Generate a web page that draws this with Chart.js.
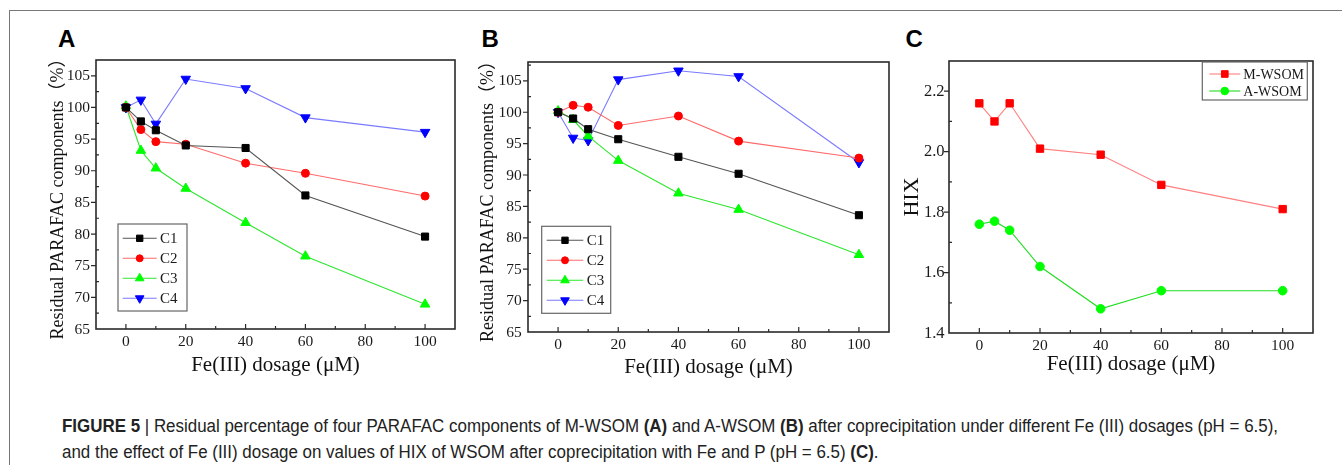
<!DOCTYPE html>
<html>
<head>
<meta charset="utf-8">
<script src="https://cdn.jsdelivr.net/npm/chart.js@4.4.1/dist/chart.umd.min.js"></script>
<style>
  body { margin: 0; background: #fff; width: 1342px; height: 465px; overflow: hidden; position: relative; }
  .frame { position: absolute; left: 9px; top: 10px; width: 1400px; height: 500px; border-left: 1px solid #777; border-top: 1px solid #777; }
  canvas { position: absolute; }
  .tag { position: absolute; top: 27px; font: bold 24px "Liberation Sans", Arial, sans-serif; line-height: 1; color: #000; }
  .cap { position: absolute; left: 62px; top: 413px; font: 17.5px "Liberation Sans", Arial, sans-serif; line-height: 26px; color: #222; white-space: nowrap; }
  .cap span { display: inline-block; transform-origin: 0 50%; }
</style>
</head>
<body>
<div class="frame"></div>
<div class="tag" style="left:58px">A</div>
<div class="tag" style="left:481.5px">B</div>
<div class="tag" style="left:905.5px">C</div>
<canvas id="chartA"></canvas>
<canvas id="chartB"></canvas>
<canvas id="chartC"></canvas>
<div class="cap">
  <span id="cap1"><b>FIGURE 5</b> | Residual percentage of four PARAFAC components of M-WSOM <b>(A)</b> and A-WSOM <b>(B)</b> after coprecipitation under different Fe (III) dosages (pH = 6.5),</span><br>
  <span id="cap2">and the effect of Fe (III) dosage on values of HIX of WSOM after coprecipitation with Fe and P (pH = 6.5) <b>(C)</b>.</span>
</div>
<script>
// Fe(III) dosage (uM)
const dosage = [0, 5, 10, 20, 40, 60, 100];

// panel A: M-WSOM residual components (%)
const mC1 = [100, 97.8, 96.4, 94.0, 93.6, 86.1, 79.6];
const mC2 = [100, 96.5, 94.6, 94.2, 91.2, 89.6, 86.0];
const mC3 = [100.2, 93.2, 90.4, 87.2, 81.8, 76.5, 68.9];
const mC4 = [100, 101.2, 97.4, 104.5, 103.0, 98.4, 96.1];

// panel B: A-WSOM residual components (%)
const aC1 = [100, 99.0, 97.3, 95.7, 92.9, 90.2, 83.6];
const aC2 = [100, 101.1, 100.8, 97.9, 99.4, 95.4, 92.7];
const aC3 = [100.2, 98.8, 96.2, 92.3, 87.1, 84.5, 77.3];
const aC4 = [100, 95.9, 95.5, 105.2, 106.6, 105.7, 92.0];

// panel C: HIX
const hixM = [2.16, 2.10, 2.16, 2.01, 1.99, 1.89, 1.81];
const hixA = [1.76, 1.77, 1.74, 1.62, 1.48, 1.54, 1.54];

// tick labels
const doseTicks = [0, 20, 40, 60, 80, 100];
const pctTicks = [65, 70, 75, 80, 85, 90, 95, 100, 105];
const hixTicks = [1.4, 1.6, 1.8, 2.0, 2.2];

const serif = '"Liberation Serif", "Times New Roman", "Noto Sans CJK SC", serif';
const xTitle = 'Fe(III) dosage (\u03bcM)';
const pctTitle = 'Residual PARAFAC components\uff08%\uff09';

const pts = ys => dosage.map((x, i) => ({ x: x, y: ys[i] }));

function series(label, ys, color, lineColor, style, radius, rotation) {
  return {
    label: label,
    data: pts(ys),
    borderColor: lineColor,
    borderWidth: 1.1,
    pointStyle: style,
    pointRotation: rotation || 0,
    pointRadius: radius,
    pointBackgroundColor: color,
    pointBorderColor: color,
    pointBorderWidth: 1,
    tension: 0
  };
}

// frame, tick marks, tick labels and the boxed legend
const decor = {
  id: 'decor',
  afterDraw(chart, args, o) {
    const { ctx, chartArea: a, scales: { x, y } } = chart;
    ctx.save();
    ctx.strokeStyle = '#2a2a2a';
    ctx.lineWidth = 1.6;
    ctx.strokeRect(a.left, a.top, a.width, a.height);

    ctx.lineWidth = 1.2;
    ctx.beginPath();
    for (let k = 0; k <= 10; k++) {
      const v = o.xr[0] + k * o.xr[2] / 2;
      const px = x.getPixelForValue(v);
      ctx.moveTo(px, a.bottom);
      ctx.lineTo(px, a.bottom - (k % 2 ? 3 : 5));
    }
    const ny = Math.round((o.yr[1] - o.yr[0]) / o.yr[2] * 2);
    for (let k = 1; k <= ny + 1; k++) {
      const v = o.yr[0] + k * o.yr[2] / 2;
      const py = y.getPixelForValue(v);
      if (py < a.top + 1) continue;
      if (k % 2) { ctx.moveTo(a.left, py); ctx.lineTo(a.left + 3, py); }
      else { ctx.moveTo(a.left - 5, py); ctx.lineTo(a.left, py); }
    }
    ctx.stroke();

    // tick labels
    ctx.fillStyle = '#1a1a1a';
    ctx.textBaseline = 'middle';
    ctx.font = o.xFont + 'px ' + serif;
    ctx.textAlign = 'center';
    o.xt.forEach(v => ctx.fillText(String(v), x.getPixelForValue(v), a.bottom + o.xGap));
    ctx.font = o.yFont + 'px ' + serif;
    ctx.textAlign = 'right';
    o.yt.forEach(v => ctx.fillText(o.fmt(v), a.left - o.yGap, y.getPixelForValue(v) + 0.5));

    const lg = o.legend;
    const bx = a.left + lg.dx;
    const by = lg.fromTop ? a.top + lg.dy : a.bottom - lg.dy - lg.h;
    ctx.fillStyle = '#fff';
    ctx.fillRect(bx, by, lg.w, lg.h);
    ctx.strokeStyle = '#666';
    ctx.lineWidth = 1.2;
    ctx.strokeRect(bx, by, lg.w, lg.h);
    ctx.font = lg.font + 'px ' + serif;
    ctx.textBaseline = 'middle';
    ctx.textAlign = 'left';
    chart.data.datasets.forEach((ds, i) => {
      const cy = by + lg.row0 + i * lg.gap;
      ctx.strokeStyle = ds.borderColor;
      ctx.lineWidth = ds.borderWidth;
      ctx.beginPath();
      ctx.moveTo(bx + lg.l0, cy);
      ctx.lineTo(bx + lg.l1, cy);
      ctx.stroke();
      ctx.fillStyle = ds.pointBackgroundColor;
      ctx.strokeStyle = ds.pointBorderColor;
      ctx.lineWidth = ds.pointBorderWidth;
      Chart.helpers.drawPoint(ctx, {
        pointStyle: ds.pointStyle, rotation: ds.pointRotation,
        radius: ds.pointRadius - 0.5, borderWidth: ds.pointBorderWidth
      }, bx + (lg.l0 + lg.l1) / 2, cy);
      ctx.fillStyle = '#1a1a1a';
      ctx.fillText(ds.label, bx + lg.tx, cy + 1);
    });
    ctx.restore();
  }
};

function makePanel(id, geo, yMin, yMax, yTicks, yStep, yTitle, yFs, yTickFs, fmt, datasets, legend) {
  const [cx, cy, cw, ch] = geo.canvas;
  const [L, T, R, B] = geo.area;
  const xFs = 21;
  const yBoxLeft = geo.yTitleX - 4 - 0.6 * yFs;
  const yWidth = L - yBoxLeft;
  const xHeight = geo.xTitleY + 4 + 0.6 * xFs - B;
  const el = document.getElementById(id);
  el.width = cw; el.height = ch;
  el.style.left = cx + 'px'; el.style.top = cy + 'px';
  el.style.width = cw + 'px'; el.style.height = ch + 'px';

  new Chart(el, {
    type: 'line',
    data: { datasets: datasets },
    plugins: [decor],
    options: {
      responsive: false,
      animation: false,
      devicePixelRatio: 1,
      layout: { padding: { left: yBoxLeft - cx, top: T - cy, right: cx + cw - R, bottom: cy + ch - B - xHeight } },
      plugins: {
        legend: { display: false },
        tooltip: { enabled: false },
        decor: {
          xr: [0, 100, 20], yr: [yMin, yMax, yStep], legend: legend,
          xt: doseTicks, yt: yTicks, fmt: fmt,
          xFont: 15.5, yFont: yTickFs, xGap: geo.xGap, yGap: geo.yGap
        }
      },
      scales: {
        x: {
          type: 'linear', min: -10, max: 110,
          afterFit: s => { s.height = xHeight; },
          grid: { display: false, drawTicks: false }, border: { display: false },
          ticks: { display: false },
          title: { display: true, text: xTitle, color: '#111', padding: { top: 4, bottom: 4 }, font: { family: serif, size: xFs } }
        },
        y: {
          min: yMin, max: yMax,
          afterFit: s => { s.width = yWidth; },
          grid: { display: false, drawTicks: false }, border: { display: false },
          ticks: { display: false },
          title: { display: true, text: yTitle, color: '#111', padding: { top: 4, bottom: 4 }, font: { family: serif, size: yFs } }
        }
      }
    }
  });
}

const intFmt = v => String(v);
const oneDec = v => Number(v).toFixed(1);

makePanel('chartA',
  { canvas: [20, 40, 450, 360], area: [96, 60, 455, 329], yTitleX: 58, xTitleY: 365, xGap: 13, yGap: 6 },
  65, 107.5, pctTicks, 5, pctTitle, 18, 15.5, intFmt,
  [
    series('C1', mC1, '#000000', '#555555', 'rect', 5),
    series('C2', mC2, '#ff0000', '#ff6a6a', 'circle', 4),
    series('C3', mC3, '#00ff00', '#2ee62e', 'triangle', 5.5),
    series('C4', mC4, '#0000ff', '#7a7aff', 'triangle', 5.5, 180)
  ],
  { dx: 22, dy: 18, w: 69, h: 87, fromTop: false, row0: 14.3, gap: 20, l0: 4.7, l1: 38.7, tx: 42, font: 15 });

makePanel('chartB',
  { canvas: [472, 40, 430, 360], area: [528, 62, 889, 332], yTitleX: 488, xTitleY: 367, xGap: 13, yGap: 6.3 },
  65, 108, pctTicks, 5, pctTitle, 18, 15.5, intFmt,
  [
    series('C1', aC1, '#000000', '#555555', 'rect', 5),
    series('C2', aC2, '#ff0000', '#ff6a6a', 'circle', 4),
    series('C3', aC3, '#00ff00', '#2ee62e', 'triangle', 5.5),
    series('C4', aC4, '#0000ff', '#7a7aff', 'triangle', 5.5, 180)
  ],
  { dx: 13.7, dy: 18.7, w: 69, h: 87, fromTop: false, row0: 14, gap: 20, l0: 5, l1: 41.6, tx: 45, font: 15 });

makePanel('chartC',
  { canvas: [880, 40, 455, 360], area: [949, 61, 1313, 333], yTitleX: 912, xTitleY: 364, xGap: 13, yGap: 4.5 },
  1.4, 2.3, hixTicks, 0.2, 'HIX', 22, 16.5, oneDec,
  [
    series('M-WSOM', hixM, '#ff0000', '#ff8080', 'rect', 5.2),
    series('A-WSOM', hixA, '#00ff00', '#22dd22', 'circle', 4.3)
  ],
  { dx: 253.3, dy: 1, w: 105, h: 38, fromTop: true, row0: 12, gap: 17, l0: 7, l1: 38, tx: 41, font: 14 });

// fit caption lines to the reference width
const c1 = document.getElementById('cap1');
const c2 = document.getElementById('cap2');
const k = 1216 / c1.getBoundingClientRect().width;
c1.style.transform = 'scaleX(' + k + ')';
c2.style.transform = 'scaleX(' + k + ')';
</script>
</body>
</html>
